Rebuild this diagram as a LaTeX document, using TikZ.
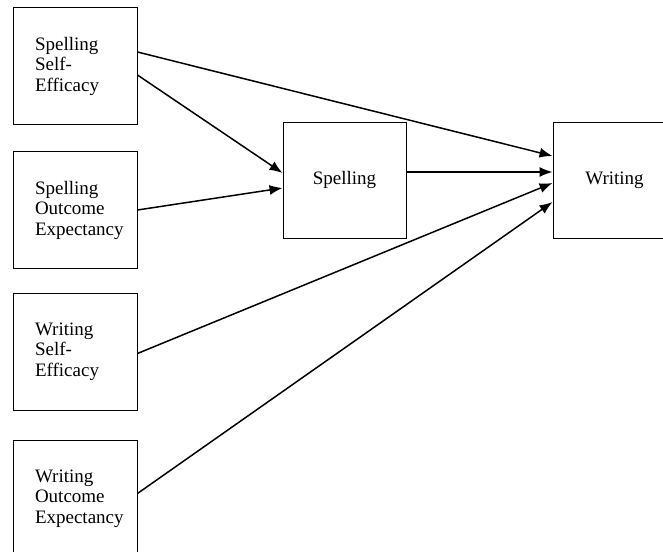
\documentclass[tikz,border=0pt]{standalone}
\usepackage{fontspec}
\setmainfont{Liberation Serif}
\usepackage{tikz}
\usetikzlibrary{calc}
\usetikzlibrary{arrows.meta}
\hfuzz=20pt

\tikzset{
    predbox/.style={draw, line width=0.9pt, rectangle, minimum width=124pt, minimum height=117pt,
        text width=80pt, inner xsep=22pt, align=left, font=\fontsize{19}{20.5}\selectfont},
    varbox/.style={draw, line width=0.9pt, rectangle, minimum width=123pt, minimum height=116pt,
        font=\fontsize{19}{20.5}\selectfont},
    arr/.style={line width=1.5pt, -{Latex[length=13pt,width=10pt]}}
}

\begin{document}
\begin{tikzpicture}[x=1pt,y=-1pt]
    \def\lx{75}    % x of the left column
    \def\my{180}   % y of the mediator and outcome

    \useasboundingbox (0,0) rectangle (663,551);
    \clip (0,0) rectangle (663,551);

    % Draw the predictor boxes
    \node[predbox] (sse) at (\lx,66) {Spelling\\Self-\\Efficacy};
    \node[predbox] (soe) at (\lx,210) {Spelling\\Outcome\\Expectancy};
    \node[predbox] (wse) at (\lx,351.5) {Writing\\Self-\\Efficacy};
    \node[predbox] (woe) at (\lx,498.5) {Writing\\Outcome\\Expectancy};

    % Draw the mediator and outcome boxes
    \node[varbox] (spell) at (344.5,\my) {Spelling};
    \node[varbox] (writ) at (614.5,\my) {Writing};

    % Draw the paths
    \draw[arr] ($(sse.east)+(0,-14)$) -- ($(writ.west)+(0,-24)$);
    \draw[arr] ($(sse.east)+(0,9)$) -- ($(spell.west)+(0,-7)$);
    \draw[arr] (soe.east) -- ($(spell.west)+(0,8)$);
    \draw[arr] ($(spell.east)+(0,-8)$) -- ($(writ.west)+(0,-8)$);
    \draw[arr] ($(wse.east)+(0,2)$) -- ($(writ.west)+(0,3)$);
    \draw[arr] ($(woe.east)+(0,-5)$) -- ($(writ.west)+(0,22)$);
\end{tikzpicture}
\end{document}
